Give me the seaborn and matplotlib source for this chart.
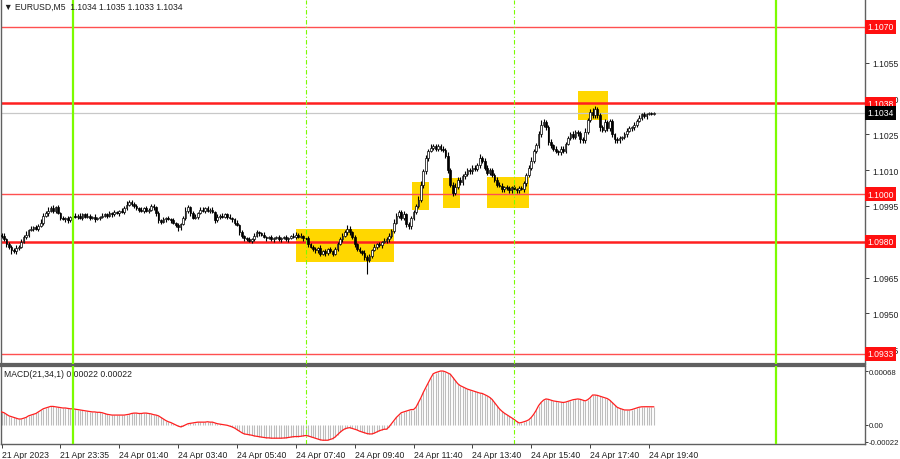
import numpy as np
import pandas as pd
import matplotlib
matplotlib.use("Agg")
import matplotlib.pyplot as plt
from matplotlib.patches import Rectangle
import seaborn as sns

sns.set_style("white")
plt.rcParams['font.family'] = ['Liberation Sans', 'DejaVu Sans']

# EURUSD M5 closes, pips above 1.0900, one value per bar (bar 0 = 21 Apr 21:35)
close_pips = [
    83, 82.5, 81, 79, 78, 76.5, 76, 77.5, 78, 80,
    82, 83, 85, 85.5, 86, 85.5, 86.5, 88, 91, 92,
    93, 94, 93, 94.5, 92, 90, 89.5, 90, 89, 90.5,
    91, 90.5, 91, 90, 91.5, 90.5, 91, 90, 90.5, 89.5,
    90, 90.5, 91, 91.5, 91, 92, 91.5, 92.5, 92, 93,
    92.5, 94, 95.5, 96.5, 96, 95, 94, 93.5, 93, 94,
    93, 93.5, 95, 94.5, 92, 89, 88.5, 89.5, 90, 89.5,
    89, 88, 87, 86, 87.5, 90, 93, 94.5, 92, 90,
    90.5, 92, 93.5, 93, 94, 93, 93.5, 92.5, 89, 90.5,
    91, 90.5, 91.5, 90.5, 90, 89.5, 88, 87, 84, 82.5,
    81.5, 81, 80.5, 81, 82.5, 84, 83.5, 83, 82, 81.5,
    82, 81, 81.5, 82, 81, 81.5, 82, 81, 81.5, 82.5,
    82, 83, 82, 82.5, 81.5, 81.5, 79, 78, 77, 76.5,
    77.5, 75, 76, 75.5, 77, 76, 75, 77, 79, 81,
    82.5, 84, 85.5, 84, 82, 79, 77, 76, 75.5, 73.5,
    72.5, 74, 76.5, 78, 79, 78.5, 80, 80.5, 81, 82.5,
    84.5, 88, 91, 92.5, 90, 91.5, 87.5, 86.5, 90, 92.5,
    95, 97.5, 104, 109.5, 115, 118, 119.5, 120, 119, 120,
    119, 118.5, 116, 110, 104, 100.5, 103, 106, 105, 107.5,
    108.5, 110, 109.5, 111, 110.5, 112, 115, 114, 111, 109,
    110, 108, 106, 104, 103.5, 102, 103, 102.5, 101.5, 103,
    102, 101.5, 102.5, 102, 104.5, 108, 111, 114, 118, 120.5,
    125, 129, 130, 128, 122, 120.5, 119, 118, 117.5, 119,
    118, 121, 123.5, 125, 124, 126, 125.5, 123, 122.5, 126,
    131, 134.5, 133, 135.5, 133, 128, 127, 130, 127.5, 130.5,
    125, 123, 122.5, 123.5, 124, 125, 126.5, 127.5, 128, 129,
    130.5, 132, 133.5, 132.5, 133.5, 134, 133.5, 134,
]
first_open_pips = 83.5

upper_wick = [
    1, 0.5, 1, 0.5, 1, 0.5, 1, 1, 0.5, 1,
    1, 1.5, 0.5, 1, 0.5, 1, 1, 1.5, 1, 1,
    1.5, 1, 1.5, 0.5, 1, 0.5, 1, 0.5, 1, 0.5,
    0.5, 1, 0.5, 1, 0.5, 0.5, 1, 0.5, 0.5, 1,
    0.5, 0.5, 1, 0.5, 0.5, 1, 0.5, 1, 0.5, 0.5,
    1, 1, 1.5, 1, 1, 0.5, 1, 0.5, 1, 0.5,
    1, 0.5, 1, 1, 0.5, 1, 0.5, 1, 0.5, 1,
    0.5, 1, 0.5, 1, 0.5, 1, 1.5, 1, 0.5, 1,
    1, 0.5, 1, 1, 0.5, 1, 0.5, 1, 0.5, 1,
    0.5, 1, 0.5, 0.5, 1, 0.5, 0.5, 1, 0.5, 1,
    0.5, 0.5, 1, 0.5, 1, 1, 0.5, 0.5, 1, 0.5,
    0.5, 1, 0.5, 0.5, 1, 0.5, 0.5, 1, 0.5, 0.5,
    1, 1, 0.5, 1, 0.5, 0.5, 1, 0.5, 0.5, 1,
    0.5, 1, 0.5, 1, 0.5, 1, 0.5, 1, 1, 1,
    1, 1, 1.5, 1, 0.5, 1, 0.5, 1, 0.5, 1,
    1, 1, 0.5, 1, 0.5, 1, 0.5, 1, 1, 1,
    1, 1.5, 1, 1, 1, 1.5, 0.5, 1, 1, 1,
    1, 1.5, 1.5, 1, 1.5, 1, 1.5, 1, 1, 1,
    1, 1, 1, 1.5, 1, 1, 1.5, 1, 1, 1,
    1, 1, 1, 1, 1, 1, 1.8, 1, 1, 1,
    1, 1, 1, 1, 1, 1, 0.5, 1, 1, 0.5,
    1, 0.5, 1, 1, 1, 1, 1, 1.5, 1, 1,
    1.5, 2, 1.5, 1, 1, 1, 0.5, 1, 0.5, 1,
    1, 1, 1, 1, 1.5, 1, 1, 1, 1, 1.5,
    1, 1, 1.5, 1.5, 1, 1, 1, 1.5, 1, 1,
    1, 0.5, 1, 1, 0.5, 1, 1, 1, 0.5, 1,
    1, 1, 0.5, 1, 0.5, 0.5, 0.5, 0.5,
]
lower_wick = [
    1, 1, 0.5, 1, 1, 1.5, 0.5, 1, 1, 0.5,
    0.5, 1, 1, 0.5, 1, 0.5, 1, 0.5, 1, 0.5,
    1, 0.5, 1, 1, 0.5, 1, 0.5, 1, 1, 0.5,
    1, 0.5, 1, 0.5, 1, 0.5, 0.5, 1, 0.5, 1,
    0.5, 1, 0.5, 0.5, 1, 0.5, 1, 0.5, 0.5, 1,
    0.5, 1, 0.5, 0.5, 1, 1, 0.5, 1, 0.5, 1,
    0.5, 1, 0.5, 1, 1, 1, 1, 0.5, 1, 0.5,
    1, 0.5, 1, 1.5, 1, 0.5, 1, 1, 1, 0.5,
    0.5, 1, 0.5, 0.5, 1, 0.5, 1, 0.5, 1, 0.5,
    1, 0.5, 0.5, 1, 0.5, 1, 1, 0.5, 1, 1,
    1, 0.5, 0.5, 1, 0.5, 0.5, 1, 0.5, 0.5, 1,
    0.5, 0.5, 1, 0.5, 0.5, 1, 0.5, 0.5, 1, 0.5,
    0.5, 1, 0.5, 0.5, 1, 1, 1, 0.5, 1, 1,
    1, 1, 0.5, 1.5, 1, 0.5, 1, 0.5, 1, 0.5,
    1, 0.5, 1, 1, 1, 1, 1, 0.5, 1, 1,
    6, 1, 1, 0.5, 1, 0.5, 1, 0.5, 1, 1,
    1, 1, 0.5, 1, 1, 1, 1.5, 1, 1, 1,
    1, 1, 1, 1.5, 1, 1, 0.5, 1, 1, 1,
    1, 1, 1, 1, 1, 1.5, 1, 1, 1, 1,
    1, 1, 1, 1, 1, 1, 1, 1, 1, 1,
    1, 1, 1, 1, 0.5, 1, 1, 1, 1, 1,
    1, 1, 1, 0.5, 1, 1, 1, 1, 1, 1,
    1, 1, 1, 1, 1.5, 1, 1, 1, 1, 1,
    1, 1, 0.5, 1, 1, 1, 1, 1.5, 1, 1,
    1, 1, 1, 1, 1, 1.5, 1, 1, 1, 1,
    1, 1.5, 1, 1, 1, 1, 1, 0.5, 1, 1,
    1, 0.5, 1, 0.5, 1, 0.5, 0.5, 0.5,
]

# MACD(21,34,1) histogram, in units of 1e-5
macd_e5 = [
    17, 16, 15, 13, 11, 10, 9, 8, 7, 7,
    8, 9, 11, 12, 13, 14, 16, 18, 20, 21,
    22, 23, 23, 22.5, 22, 21.5, 21, 21, 20.5, 20,
    20, 19.5, 19, 18.5, 18, 17.5, 17, 16.5, 16, 16,
    15.5, 15.5, 15, 14, 13, 12.5, 12, 12, 12, 12,
    12, 12, 12.5, 13, 14, 14.5, 14.5, 14, 14, 14.5,
    14.5, 14, 13.5, 12.5, 12, 11, 9, 7, 5, 3.5,
    2.5, 1, -0.5, -2, -3, -2, -0.5, 1, 1.5, 2,
    2.5, 3, 3, 3, 3, 3.5, 3, 3, 2, 1,
    0.5, 0, -0.5, -1, -2, -3, -4.5, -6.5, -8.5, -10.5,
    -12, -12.5, -13, -13.6, -14.5, -15, -15.5, -16, -16.5, -17,
    -17, -17.4, -17.4, -17.4, -17.4, -17.4, -17.2, -17, -16.5, -16,
    -15.5, -15.3, -15.3, -15, -14.5, -14, -14.5, -15.5, -16.5, -17.5,
    -18.5, -19.5, -20, -20, -20, -19, -18, -16, -13, -10,
    -7.5, -5.5, -4.5, -4, -5, -6, -7, -8.5, -9.5, -10.5,
    -11.5, -12, -12, -11, -9.5, -8, -7, -6, -6, -3,
    1, 5, 9, 12, 15, 16, 17, 18, 19, 19,
    22, 28, 34, 41, 47, 53, 59, 64.5, 66, 67,
    68, 68, 67, 65.5, 64, 60, 56, 52, 49.5, 48,
    46.5, 45, 44, 43, 42, 41, 40, 39.5, 38, 36.5,
    34.6, 32, 28, 24, 20, 17, 14.5, 12.5, 10.5, 8.5,
    6.5, 4, 2, 2.5, 3.5, 4.5, 6, 9, 13, 18,
    24, 28, 31, 32.5, 32, 31, 30, 29.5, 29, 28.5,
    28, 28.5, 29.5, 30.5, 31.5, 32, 32.5, 32, 31, 30,
    31.5, 34, 37.5, 37.5, 37, 36, 35, 34, 33, 31,
    28, 25, 22, 20.6, 19.5, 18.5, 18.5, 18.4, 19, 20,
    21, 22, 22.5, 22.6, 22.6, 22.6, 22.6, 22.5,
]

red_levels = [1.1070, 1.1038, 1.1000, 1.0980, 1.0933]
strong_levels = [1.1038, 1.0980]
bid_price = 1.1034
# the 1.1070 and 1.0980 scale marks sit under the red level boxes
price_ticks = [1.1055, 1.1040, 1.1025, 1.1010, 1.0995, 1.0965, 1.0950, 1.0935]
macd_ticks = [0.00068, 0.0, -0.00022]
macd_tick_labels = ["0.00068", "0.00", "-0.00022"]

day_bars = [30, 317]
session_bars = [125, 210]

# highlight zones: first bar, last bar, low price, high price
zone_start = [121.1, 168.3, 181.0, 199.0, 236.1]
zone_end = [161.1, 175.3, 188.0, 216.1, 248.2]
zone_low = [1.09717, 1.09934, 1.09942, 1.09942, 1.10310]
zone_high = [1.09854, 1.10049, 1.10067, 1.10072, 1.10431]

time_bars = [1, 25, 49, 73, 97, 121, 145, 169, 193, 217, 241, 265]
time_labels = ["21 Apr 2023", "21 Apr 23:35", "24 Apr 01:40", "24 Apr 03:40",
               "24 Apr 05:40", "24 Apr 07:40", "24 Apr 09:40", "24 Apr 11:40",
               "24 Apr 13:40", "24 Apr 15:40", "24 Apr 17:40", "24 Apr 19:40"]

# ---- build the frame
close = 1.09 + np.array(close_pips) / 1e4
opens = np.r_[1.09 + first_open_pips / 1e4, close[:-1]]
df = pd.DataFrame({
    "bar": np.arange(len(close)),
    "open": opens,
    "close": close,
    "high": np.maximum(opens, close) + np.array(upper_wick) / 1e4,
    "low": np.minimum(opens, close) - np.array(lower_wick) / 1e4,
    "macd": np.array(macd_e5) * 1e-5,
})

W, H = 900, 460
fig = plt.figure(figsize=(9, 4.6), dpi=100)
ax = fig.add_axes([1 / W, 1 - 365 / H, 864 / W, 364 / H])
ax2 = fig.add_axes([1 / W, 1 - 445 / H, 864 / W, 78 / H])

xlim = (0.775, 353.1)
lime = "#7CFC00"
fs = 6.2
txt = "#202020"

# ---- price panel
for x0, x1, lo, hi in zip(zone_start, zone_end, zone_low, zone_high):
    ax.add_patch(Rectangle((x0, lo), x1 - x0, hi - lo, facecolor="#FFD700",
                           edgecolor="none", zorder=1))

for lvl in red_levels:
    strong = lvl in strong_levels
    ax.axhline(lvl, color="#FF2020" if strong else "#FF5050",
               lw=1.8 if strong else 1.0, zorder=2)
ax.axhline(bid_price, color="#C8C8C8", lw=0.9, zorder=2)

up = df[df.close >= df.open]
dn = df[df.close < df.open]
ax.vlines(df.bar, df.low, df.high, color="black", lw=0.8, zorder=3)
ax.bar(up.bar, up.close - up.open, bottom=up.open, width=0.7,
       color="white", edgecolor="black", lw=0.5, zorder=4)
ax.bar(dn.bar, dn.open - dn.close, bottom=dn.close, width=0.7,
       color="black", edgecolor="black", lw=0.5, zorder=4)

ax.set_xlim(*xlim)
ax.set_ylim(1.09288, 1.10813)
ax.set_xticks([])
ax.yaxis.tick_right()
ax.set_yticks(price_ticks)
ax.set_yticklabels([f"{p:.4f}" for p in price_ticks])
ax.tick_params(axis="y", right=True, length=3, width=0.6, pad=2,
               labelsize=fs, colors=txt)

tr = ax.get_yaxis_transform()
for lvl in red_levels:
    ax.text(1.003, lvl, f"{lvl:.4f}", transform=tr, fontsize=fs, color="white",
            va="center", ha="left", clip_on=False, zorder=10,
            bbox=dict(boxstyle="square,pad=0.25", fc="#FF1010", ec="none"))
ax.text(1.003, bid_price, f"{bid_price:.4f}", transform=tr, fontsize=fs,
        color="white", va="center", ha="left", clip_on=False, zorder=10,
        bbox=dict(boxstyle="square,pad=0.25", fc="black", ec="none"))

# ---- MACD panel
ax2.vlines(df.bar, 0, df.macd, color="#BDBDBD", lw=0.8, zorder=2)
sns.lineplot(data=df, x="bar", y="macd", ax=ax2, color="#FF2020", lw=0.9,
             zorder=3)
ax2.set_xlim(*xlim)
ax2.set_ylim(-0.000248, 0.000744)
ax2.set_xlabel("")
ax2.set_ylabel("")
ax2.yaxis.tick_right()
ax2.set_yticks(macd_ticks)
ax2.set_yticklabels(macd_tick_labels)
ax2.tick_params(axis="y", right=True, length=2, width=0.6, pad=0.5,
                labelsize=5.6, colors=txt)
ax2.set_xticks(time_bars)
ax2.set_xticklabels(time_labels, ha="left")
ax2.tick_params(axis="x", bottom=True, length=3, width=0.6, pad=1,
                labelsize=fs, colors=txt)

# ---- vertical separators through both panels
for a in (ax, ax2):
    for b in day_bars:
        a.axvline(b, color=lime, lw=1.6, zorder=5)
    for b in session_bars:
        a.axvline(b, color=lime, lw=0.8, ls=(0, (4, 2, 1, 2)), zorder=5)
    for s in a.spines.values():
        s.set_color("#606060")
        s.set_linewidth(1.0)
ax.spines["top"].set_visible(False)
ax.spines["bottom"].set_linewidth(1.6)
ax2.spines["top"].set_linewidth(1.6)

fig.text(4 / W, 1 - 7 / H, "\u25BC EURUSD,M5  1.1034 1.1035 1.1033 1.1034",
         fontsize=fs, va="center", ha="left", color=txt)
ax2.text(0.004, 0.9, "MACD(21,34,1) 0.00022 0.00022", transform=ax2.transAxes,
         fontsize=fs, va="center", ha="left", color=txt)

fig.savefig("out.png", dpi=100)
